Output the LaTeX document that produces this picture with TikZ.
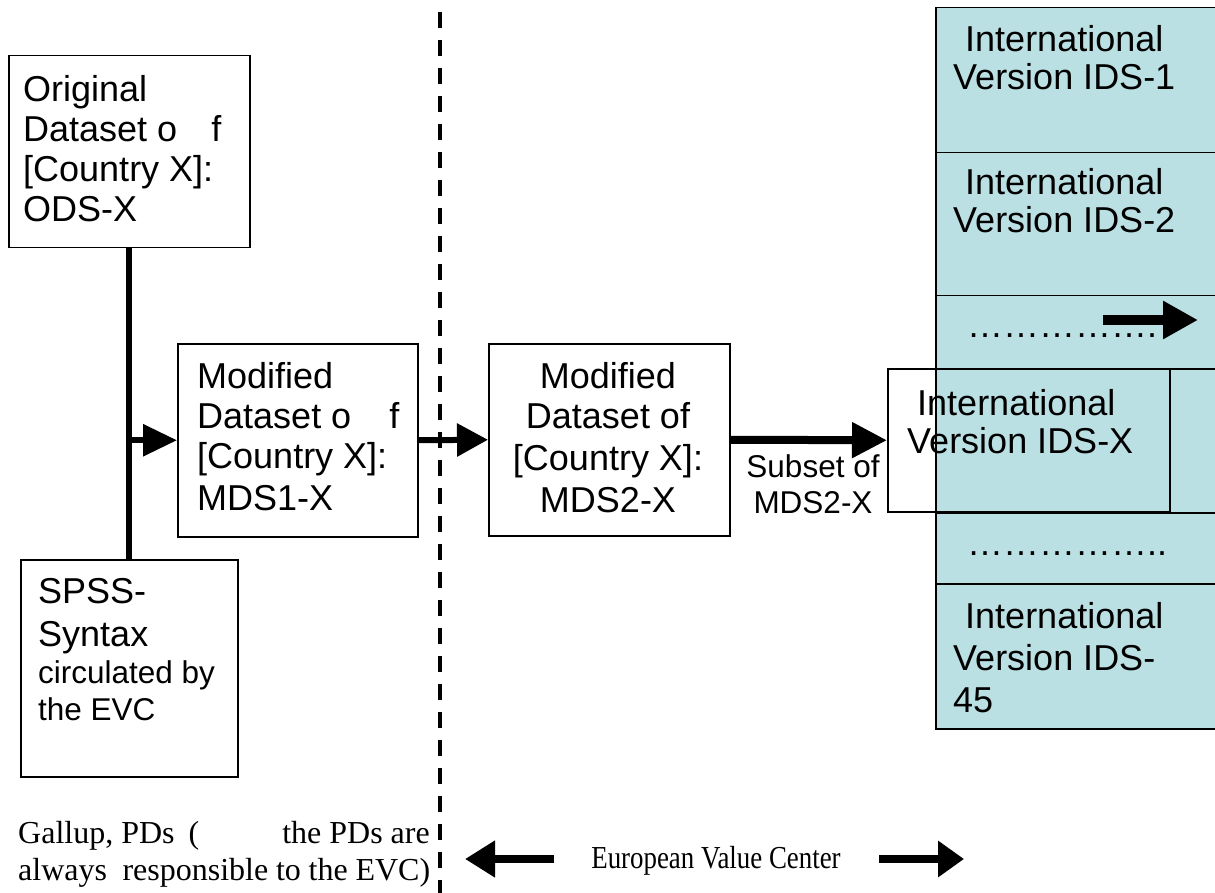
\documentclass[tikz,border=0pt]{standalone}
\usepackage{fontspec}
\usetikzlibrary{arrows.meta}
\newfontfamily\arialf{Liberation Sans}
\newfontfamily\timesf{Liberation Serif}
\definecolor{colblue}{RGB}{187,224,227}
\tikzset{
  box/.style={draw=black, line width=1.5pt, inner sep=0pt, anchor=north west},
  rowbox/.style={draw=black, line width=1.5pt, fill=colblue, inner sep=0pt, anchor=north west, minimum width=300pt},
  txt/.style={anchor=base west, inner sep=0pt, font=\arialf\fontsize{36}{40}\selectfont},
  stxt/.style={anchor=base west, inner sep=0pt, font=\arialf\fontsize{31.5}{36}\selectfont},
  ctxt/.style={anchor=base, inner sep=0pt, font=\arialf\fontsize{36}{40}\selectfont},
  sctxt/.style={anchor=base, inner sep=0pt, font=\arialf\fontsize{31.5}{36}\selectfont},
  ttxt/.style={inner sep=0pt, font=\timesf\fontsize{32}{37}\selectfont},
  thin/.style={line width=6pt},
  divider/.style={line width=4.5pt, dash pattern=on 16pt off 12pt},
}
\begin{document}
\begin{tikzpicture}[x=1pt,y=-1pt]
\useasboundingbox (0,0) rectangle (1215,893);
\clip (0,0) rectangle (1215,893);

% right column
\node[rowbox, minimum height=145pt] (row1) at (935,7) {};
\node[rowbox, minimum height=143pt] (row2) at (935,152) {};
\node[rowbox, minimum height=73pt]  (row3) at (935,295) {};
\node[rowbox, minimum height=144pt] (row4) at (935,368) {};
\node[rowbox, minimum height=71pt]  (row5) at (935,512) {};
\node[rowbox, minimum height=145pt] (row6) at (935,583) {};

% boxes
\node[box, minimum width=241pt, minimum height=192pt] (ods) at (8,55) {};
\node[box, minimum width=217pt, minimum height=217pt] (spss) at (20,559) {};
\node[box, minimum width=240pt, minimum height=193pt] (mds1) at (177,343) {};
\node[box, minimum width=241pt, minimum height=192pt] (mds2) at (488,343) {};
\node[box, minimum width=282pt, minimum height=143pt] (idsx) at (887,368) {};

% texts ODS
\node[txt] (ods1) at (23,102) {Original};
\node[txt] (ods2) at (23,142) {Dataset o\hspace{34pt}f};
\node[txt] (ods3) at (23,182) {[Country X]:};
\node[txt] (ods4) at (23,222) {ODS-X};
% SPSS
\node[txt] (sp1) at (38,603) {SPSS-};
\node[txt] (sp2) at (38,646) {Syntax};
\node[stxt] (sp3) at (38,683) {circulated by};
\node[stxt] (sp4) at (38,720) {the EVC};
% MDS1
\node[txt] (m11) at (197,388) {Modified};
\node[txt] (m12) at (197,428) {Dataset o\hspace{38pt}f};
\node[txt] (m13) at (197,468) {[Country X]:};
\node[txt] (m14) at (197,510) {MDS1-X};
% MDS2
\node[ctxt] (m21) at (608,388) {Modified};
\node[ctxt] (m22) at (608,428) {Dataset of};
\node[ctxt] (m23) at (608,470) {[Country X]:};
\node[ctxt] (m24) at (608,512) {MDS2-X};
% subset label
\node[sctxt] (sub1) at (813,477) {Subset of};
\node[sctxt] (sub2) at (813,513) {MDS2-X};
% column texts
\node[txt] (i11) at (965,52) {International};
\node[txt] (i12) at (953,90) {Version IDS-1};
\node[txt] (i21) at (965,195) {International};
\node[txt] (i22) at (953,233) {Version IDS-2};
\node[txt] (d1) at (967,337) {…………….};
\node[txt] (ix1) at (917,415) {International};
\node[txt] (ix2) at (907,453) {Version IDS-X};
\node[txt] (d2) at (967,555) {……………..};
\node[txt] (i451) at (965,628) {International};
\node[txt] (i452) at (953,670) {Version IDS-};
\node[txt] (i453) at (953,712) {45};

% bottom texts
\node[ttxt, anchor=base west] (g1) at (18,843) {Gallup, PDs\hspace{14pt}(};
\node[ttxt, anchor=base east] (g2) at (430,843) {the PDs are};
\node[ttxt, anchor=base west] (g3) at (18,880) {\makebox[412pt][s]{always\ \ responsible to the EVC)}};
\node[ttxt, anchor=base] (evc) at (716,868) {\scalebox{0.84}[1]{European Value Center}};

% connectors
\draw[thin] (ods.south) -- (spss.north);
\coordinate (j) at (ods.south |- mds1.west);
\draw[thin, -{Triangle[length=34pt,width=31pt]}] (j) -- (mds1.west);
\draw[thin, -{Triangle[length=31pt,width=32pt]}] (mds1.east) -- (mds2.west);
\draw[line width=8pt, -{Triangle[length=35pt,width=34pt]}] (mds2.east) -- (idsx.west);

\coordinate (a1) at (1103,320);
\coordinate (a2) at (1198,320);
\draw[line width=10pt, -{Triangle[length=35pt,width=36pt]}] (a1) -- (a2);

\coordinate (la) at (554,859);
\coordinate (lb) at (465,859);
\draw[line width=8pt, -{Triangle[length=30pt,width=35pt]}] (la) -- (lb);
\coordinate (ra) at (879,859);
\coordinate (rb) at (964,859);
\draw[line width=8pt, -{Triangle[length=26pt,width=35pt]}] (ra) -- (rb);

% divider
\coordinate (dtop) at (440,12);
\coordinate (dbot) at (440,893);
\draw[divider] (dtop) -- (dbot);
\end{tikzpicture}
\end{document}
